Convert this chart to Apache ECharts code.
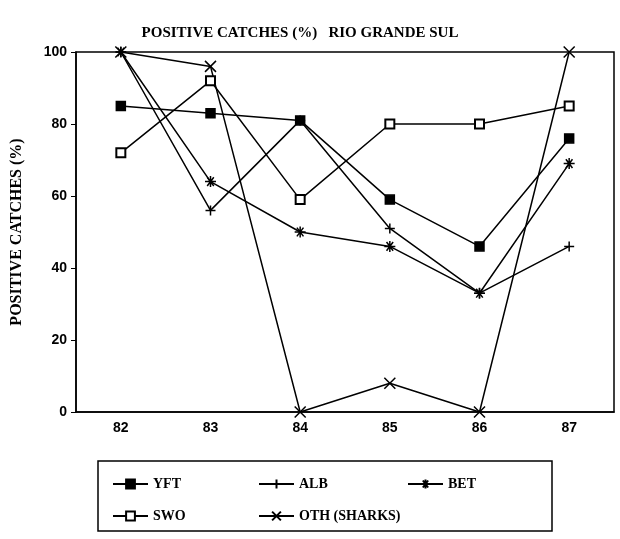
<!DOCTYPE html>
<html>
<head>
<meta charset="utf-8">
<script src="https://cdn.jsdelivr.net/npm/echarts@6/dist/echarts.min.js"></script>
<style>
  html, body { margin: 0; padding: 0; background: #fff; }
  #chart { width: 620px; height: 539px; }
</style>
</head>
<body>
<div id="chart"></div>
<script>
// data
const years = ['82', '83', '84', '85', '86', '87']
const yft = [85, 83, 81, 59, 46, 76]
const alb = [100, 56, 81, 51, 33, 46]
const bet = [100, 64, 50, 46, 33, 69]
const swo = [72, 92, 59, 80, 80, 85]
const oth = [100, 96, 0, 8, 0, 100]

const serif = 'Liberation Serif'
const sans = 'Liberation Sans'

const plus = 'path://M0,5L10,5M5,0L5,10'
const cross = 'path://M0,0L10,10M10,0L0,10'
const star = 'path://M0,5L10,5M5,0L5,10M2,1L8,9M8,1L2,9'

function line(name, data, symbol, size) {
  return {
    name: name,
    type: 'line',
    data: data,
    symbol: symbol,
    symbolSize: size,
    showAllSymbol: true,
    lineStyle: { color: '#000', width: 1.5 },
    itemStyle: { color: '#000', borderColor: '#000', borderWidth: 1.5 },
    emphasis: { disabled: true },
    z: 3
  }
}

const legendText = { fontFamily: serif, fontWeight: 'bold', fontSize: 14, color: '#000' }

const chart = echarts.init(document.getElementById('chart'))
chart.setOption({
  animation: false,
  title: {
    text: 'POSITIVE CATCHES (%)   RIO GRANDE SUL',
    left: 295,
    textAlign: 'center',
    top: 21,
    textStyle: { fontFamily: serif, fontWeight: 'bold', fontSize: 15, color: '#000' }
  },
  grid: {
    left: 76, right: 6, top: 52, bottom: 127,
    show: true, borderColor: '#000', borderWidth: 1.5
  },
  legend: [
    { left: 107, top: 472, orient: 'vertical', itemWidth: 35, itemHeight: 11, itemGap: 18, textStyle: legendText, data: ['YFT', 'SWO'] },
    { left: 253, top: 472, orient: 'vertical', itemWidth: 35, itemHeight: 11, itemGap: 18, textStyle: legendText, data: ['ALB', 'OTH (SHARKS)'] },
    { left: 402, top: 472, orient: 'vertical', itemWidth: 35, itemHeight: 11, itemGap: 18, textStyle: legendText, data: ['BET'] }
  ],
  graphic: [{
    type: 'rect',
    shape: { x: 98, y: 461, width: 454, height: 70 },
    style: { fill: 'none', stroke: '#000', lineWidth: 1.5 }
  }],
  xAxis: {
    type: 'category',
    data: years,
    boundaryGap: true,
    axisLine: { lineStyle: { color: '#000', width: 1.5 } },
    axisTick: { alignWithLabel: true, length: 5, lineStyle: { color: '#000' } },
    axisLabel: { fontFamily: sans, fontWeight: 'bold', fontSize: 14, color: '#000', margin: 9 }
  },
  yAxis: {
    type: 'value',
    min: 0, max: 100, interval: 20,
    name: 'POSITIVE CATCHES (%)',
    nameLocation: 'middle',
    nameGap: 51,
    nameRotate: 90,
    nameTextStyle: { fontFamily: serif, fontWeight: 'bold', fontSize: 16, color: '#000' },
    axisLine: { show: true, lineStyle: { color: '#000', width: 1.5 } },
    axisTick: { show: true, length: 5, lineStyle: { color: '#000' } },
    splitLine: { show: false },
    axisLabel: { fontFamily: sans, fontWeight: 'bold', fontSize: 14, color: '#000', margin: 9 }
  },
  series: [
    line('YFT', yft, 'rect', 9),
    line('ALB', alb, plus, 10),
    line('BET', bet, star, 11),
    line('SWO', swo, 'emptyRect', 9),
    line('OTH (SHARKS)', oth, cross, 11)
  ]
})
</script>
</body>
</html>
